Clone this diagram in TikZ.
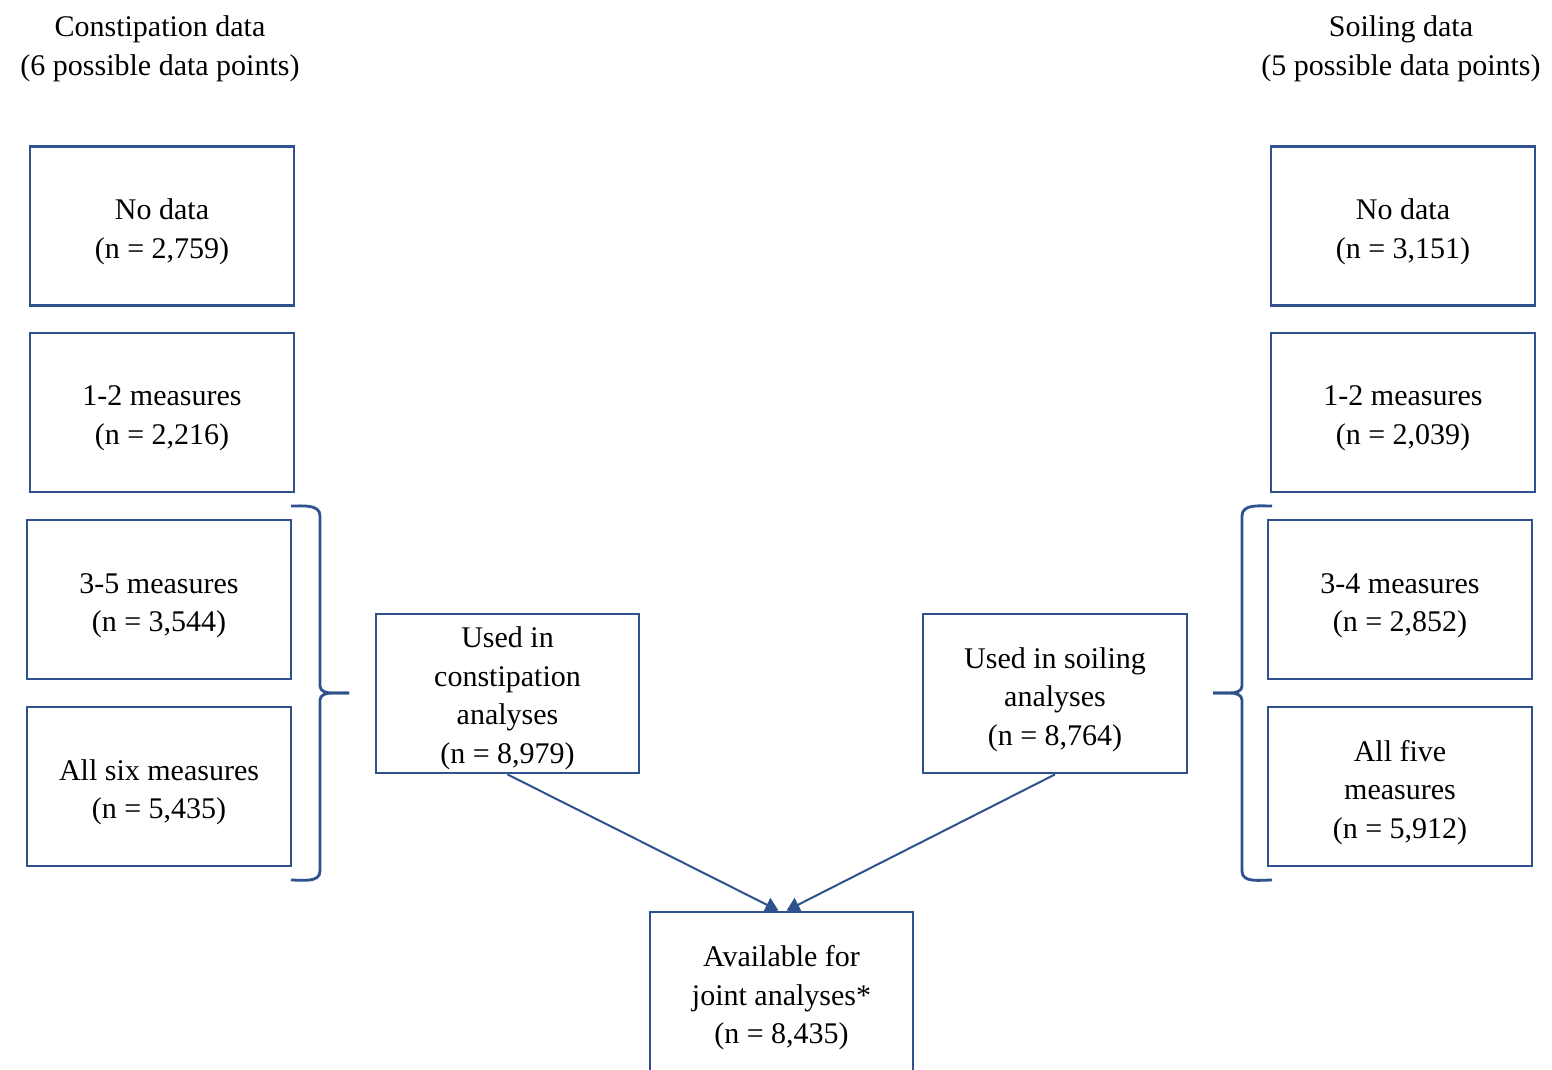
\documentclass[tikz,border=0pt]{standalone}
\usepackage{fontspec}
\setmainfont{Liberation Serif}
\usetikzlibrary{arrows.meta}
\definecolor{bblue}{HTML}{2F528F}
\begin{document}
\begin{tikzpicture}[x=1pt,y=-1pt,
  box/.style={draw=bblue,line width=2.8pt,minimum width=264pt,minimum height=159pt,inner sep=0pt},
  txt/.style={align=center,inner sep=0pt,font=\fontsize{30}{38.5}\selectfont},
  brace/.style={draw=bblue,line width=2.8pt},
  arr/.style={draw=bblue,line width=2pt,-{Triangle[length=13pt,width=15pt]}}]
\clip (0,0) rectangle (1552,1069);
\fill[white] (0,0) rectangle (1552,1069);
% titles
\node[txt] (t1) at (160,49) {Constipation data\\(6 possible data points)};
\node[txt] (t2) at (1401,49) {Soiling data\\(5 possible data points)};
% left column
\node[box] (l1) at (162,226) {};
\node[txt] (l1t) at ([yshift=-6pt]l1.center) {No data\\(n = 2,759)};
\node[box] (l2) at (162,412.5) {};
\node[txt] (l2t) at ([yshift=-6pt]l2.center) {1-2 measures\\(n = 2,216)};
\node[box] (l3) at (159,599.5) {};
\node[txt] (l3t) at ([yshift=-6pt]l3.center) {3-5 measures\\(n = 3,544)};
\node[box] (l4) at (159,786.5) {};
\node[txt] (l4t) at ([yshift=-6pt]l4.center) {All six measures\\(n = 5,435)};
% right column
\node[box] (r1) at (1403,226) {};
\node[txt] (r1t) at ([yshift=-6pt]r1.center) {No data\\(n = 3,151)};
\node[box] (r2) at (1403,412.5) {};
\node[txt] (r2t) at ([yshift=-6pt]r2.center) {1-2 measures\\(n = 2,039)};
\node[box] (r3) at (1400,599.5) {};
\node[txt] (r3t) at ([yshift=-6pt]r3.center) {3-4 measures\\(n = 2,852)};
\node[box] (r4) at (1400,786.5) {};
\node[txt] (r4t) at ([yshift=-6pt]r4.center) {All five\\measures\\(n = 5,912)};
% middle
\node[box,minimum width=263pt] (u1) at (507.5,693.5) {};
\node[txt] (u1t) at ([yshift=-5pt]u1.center) {Used in\\constipation\\analyses\\(n = 8,979)};
\node[box] (u2) at (1055,693.5) {};
\node[txt] (u2t) at ([yshift=-6pt]u2.center) {Used in soiling\\analyses\\(n = 8,764)};
\node[box,minimum width=263pt,minimum height=164pt] (av) at (781.5,994) {};
\node[txt] (avt) at ([yshift=-4pt]av.center) {Available for\\joint analyses*\\(n = 8,435)};
% braces
\coordinate (lb) at (349,693);
\coordinate (rb) at (1213,693);
\draw[brace] (291,506) to[out=0,in=90] (320,516) -- (320,686) to[out=-90,in=180] (332,693) -- (lb);
\draw[brace] (lb) -- (332,693) to[out=180,in=90] (320,700) -- (320,871) to[out=-90,in=0] (291,880);
\draw[brace] (1272,506) to[out=180,in=90] (1242,516) -- (1242,686) to[out=-90,in=0] (1230,693) -- (rb);
\draw[brace] (rb) -- (1230,693) to[out=0,in=90] (1242,700) -- (1242,871) to[out=-90,in=180] (1272,880);
% arrows
\draw[arr] (u1.south) -- ([xshift=-3pt]av.north);
\draw[arr] (u2.south) -- ([xshift=5pt]av.north);
\end{tikzpicture}
\end{document}
